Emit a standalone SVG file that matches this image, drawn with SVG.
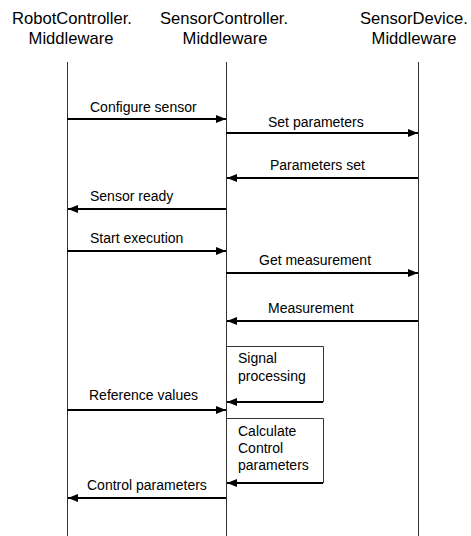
<svg xmlns="http://www.w3.org/2000/svg" width="471" height="536" viewBox="0 0 471 536">
  <style>
    .hdr { font-family: "Liberation Sans", Arial, sans-serif; font-size: 16.6px; fill: #000; text-anchor: middle; }
    .lbl { font-family: "Liberation Sans", Arial, sans-serif; font-size: 14px; fill: #000; }
    .life { stroke: #333; stroke-width: 1; fill: none; }
    .msg { stroke: #000; stroke-width: 2; fill: none; marker-end: url(#head); }
    .box { stroke: #333; stroke-width: 1; fill: none; }
  </style>
  <defs>
    <marker id="head" markerUnits="userSpaceOnUse" markerWidth="10" markerHeight="8" refX="10" refY="4" orient="auto">
      <path d="M0,0 L10,4 L0,8 z" fill="#000"/>
    </marker>
  </defs>
  <rect width="471" height="536" fill="#fff"/>

  <g id="robot-controller">
    <text class="hdr" x="72" y="24">RobotController.</text>
    <text class="hdr" x="71" y="44">Middleware</text>
    <line class="life" x1="67.5" y1="62" x2="67.5" y2="536"/>
  </g>
  <g id="sensor-controller">
    <text class="hdr" x="224" y="24">SensorController.</text>
    <text class="hdr" x="225" y="44">Middleware</text>
    <line class="life" x1="226.5" y1="62" x2="226.5" y2="536"/>
  </g>
  <g id="sensor-device">
    <text class="hdr" x="414" y="24">SensorDevice.</text>
    <text class="hdr" x="414" y="44">Middleware</text>
    <line class="life" x1="418.5" y1="62" x2="418.5" y2="536"/>
  </g>

  <g id="signal-processing">
    <polyline class="box" points="226.5,346.5 323.5,346.5 323.5,402"/>
    <text class="lbl" x="238" y="363">Signal</text>
    <text class="lbl" x="238" y="381">processing</text>
  </g>
  <g id="calculate-control">
    <polyline class="box" points="226.5,418.5 323.5,418.5 323.5,483"/>
    <text class="lbl" x="238" y="436">Calculate</text>
    <text class="lbl" x="238" y="453">Control</text>
    <text class="lbl" x="238" y="470">parameters</text>
  </g>

  <g id="connectors">
    <line class="msg" x1="67" y1="119" x2="226" y2="119"/>
    <text class="lbl" x="90" y="112">Configure sensor</text>

    <line class="msg" x1="226" y1="133" x2="418" y2="133"/>
    <text class="lbl" x="268" y="127">Set parameters</text>

    <line class="msg" x1="418" y1="178" x2="227" y2="178"/>
    <text class="lbl" x="270" y="170">Parameters set</text>

    <line class="msg" x1="226" y1="209" x2="68" y2="209"/>
    <text class="lbl" x="90" y="201">Sensor ready</text>

    <line class="msg" x1="67" y1="251" x2="226" y2="251"/>
    <text class="lbl" x="90" y="243">Start execution</text>

    <line class="msg" x1="226" y1="273" x2="418" y2="273"/>
    <text class="lbl" x="259" y="265">Get measurement</text>

    <line class="msg" x1="418" y1="321" x2="227" y2="321"/>
    <text class="lbl" x="268" y="313">Measurement</text>

    <line class="msg" x1="323" y1="402" x2="227" y2="402"/>

    <line class="msg" x1="67" y1="410" x2="226" y2="410"/>
    <text class="lbl" x="89" y="400">Reference values</text>

    <line class="msg" x1="323" y1="483" x2="227" y2="483"/>

    <line class="msg" x1="226" y1="498" x2="68" y2="498"/>
    <text class="lbl" x="87" y="490">Control parameters</text>
  </g>
</svg>
